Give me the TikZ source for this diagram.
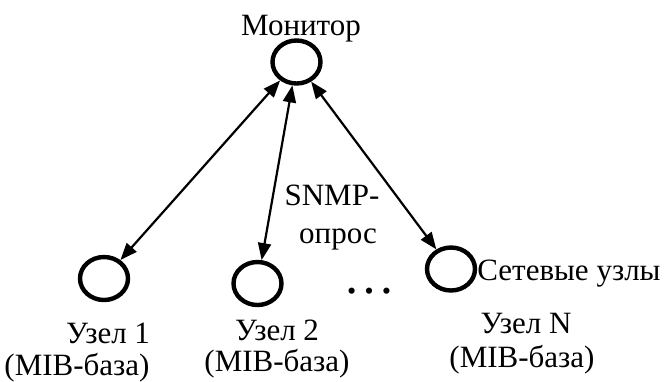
\documentclass[tikz,border=0pt]{standalone}
\usepackage{fontspec}
\setmainfont{Liberation Serif}
\usetikzlibrary{arrows.meta,shapes.geometric}
\newcommand{\LabelSize}{\fontsize{15.5}{17}\selectfont}

\begin{document}
\begin{tikzpicture}[x=0.5pt,y=-0.5pt,
	hostnode/.style={ellipse,draw,line width=2.2pt,minimum width=24pt,minimum height=21.5pt,inner sep=0pt},
	poll/.style={line width=1.1pt,{Triangle[length=8.5pt,width=6.5pt]}-{Triangle[length=8.5pt,width=6.5pt]}},
	txt/.style={inner sep=0pt,font=\LabelSize}]
	\useasboundingbox (0,0) rectangle (668,381);

	% monitor and the polled hosts
	\node[hostnode] (mon) at (296.5,62) {};
	\node[hostnode] (u1) at (104,278.5) {};
	\node[hostnode] (u2) at (257.5,283.5) {};
	\node[hostnode] (uN) at (451,269) {};

	\draw[poll] (mon) -- (u1);
	\draw[poll] (mon) -- (u2);
	\draw[poll] (mon) -- (uN);

	%\node at (mon) {mon};
	\node[txt,anchor=base] (monl) at (301,35) {Монитор};
	\node[txt,anchor=base] (snmp) at (332,205) {SNMP-};
	\node[txt,anchor=base] (opros) at (338,243) {опрос};
	\node[txt,anchor=base west] (set) at (477,280) {Сетевые узлы};
	\node[inner sep=0pt,anchor=base,font=\fontsize{26}{28}\selectfont] (dots) at (369,293) {…};

	\node[txt,anchor=base] (t1) at (108,343) {Узел 1};
	\node[txt,anchor=base] (m1) at (77,375) {(MIB-база)};
	\node[txt,anchor=base] (t2) at (277,340) {Узел 2};
	\node[txt,anchor=base] (m2) at (277,371) {(MIB-база)};
	\node[txt,anchor=base] (tN) at (526,333) {Узел N};
	\node[txt,anchor=base] (mN) at (522,367) {(MIB-база)};
\end{tikzpicture}
\end{document}
